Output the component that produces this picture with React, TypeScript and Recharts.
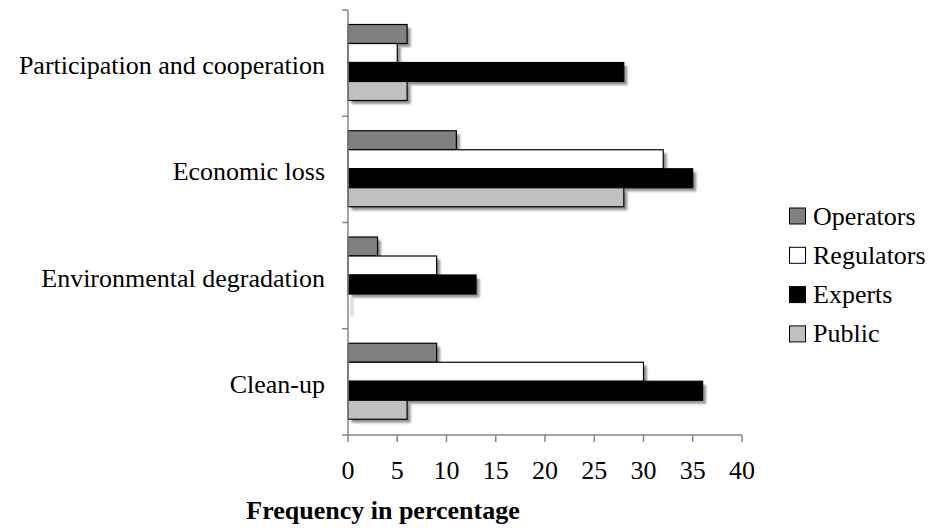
import React from 'react';
import { BarChart, Bar, XAxis, YAxis, Legend } from 'recharts';

const categories = [
  'Participation and cooperation',
  'Economic loss',
  'Environmental degradation',
  'Clean-up'
];
const operators = [6, 11, 3, 9];
const regulators = [5, 32, 9, 30];
const experts = [28, 35, 13, 36];
const publicGroup = [6, 28, 0, 6];
const xTicks = [0, 5, 10, 15, 20, 25, 30, 35, 40];

const seriesNames = ['Operators', 'Regulators', 'Experts', 'Public'];
const seriesColors = ['#808080', '#ffffff', '#000000', '#c0c0c0'];

const data = categories.map((name, i) => ({
  name,
  Operators: operators[i],
  Regulators: regulators[i],
  Experts: experts[i],
  Public: publicGroup[i]
}));

const FONT = 'Liberation Serif, Times New Roman, serif';
const AXIS_GRAY = '#868686';

// bar with black outline and the soft offset shadow of the original
const ShadowBar = (props: any) => {
  const { x, y, width, height, fill } = props;
  if (width == null || width < 0) return null;
  return (
    <g>
      <rect
        x={x + 3.5}
        y={y + 3.5}
        width={Math.max(width, 1)}
        height={height}
        fill="#808080"
        opacity={0.85}
        style={{ filter: 'blur(1.3px)' }}
      />
      {width > 0 && (
        <rect x={x} y={y} width={width} height={height} fill={fill} stroke="#000" strokeWidth={1.2} />
      )}
    </g>
  );
};

// category label plus tick marks on the band edges
const CategoryTick = (props: any) => {
  const { x, y, payload, index, visibleTicksCount } = props;
  const half = payload.offset ?? 53;
  const axisX = x + 23;
  const last = visibleTicksCount ? visibleTicksCount - 1 : categories.length - 1;
  return (
    <g>
      <line x1={axisX - 6} x2={axisX} y1={y - half} y2={y - half} stroke={AXIS_GRAY} strokeWidth={1.5} />
      {index === last && (
        <line x1={axisX - 6} x2={axisX} y1={y + half} y2={y + half} stroke={AXIS_GRAY} strokeWidth={1.5} />
      )}
      <text x={x} y={y + 11} textAnchor="end" fontSize={26} fontFamily={FONT} fill="#000">
        {payload.value}
      </text>
    </g>
  );
};

const TitleLabel = (props: any) => {
  const { viewBox } = props;
  return (
    <text
      x={viewBox.x + 35}
      y={viewBox.y + 84}
      textAnchor="middle"
      fontSize={26}
      fontWeight="bold"
      fontFamily={FONT}
      fill="#000"
    >
      Frequency in percentage
    </text>
  );
};

const LegendContent = () => (
  <svg width={145} height={160} style={{ display: 'block' }}>
    {seriesNames.map((n, i) => {
      const cy = 21 + 39.3 * i;
      return (
        <g key={n}>
          <rect x={1.5} y={cy - 8} width={16} height={16} fill={seriesColors[i]} stroke="#000" strokeWidth={1} />
          <text x={25} y={cy + 8.5} fontSize={26} fontFamily={FONT} fill="#000">
            {n}
          </text>
        </g>
      );
    })}
  </svg>
);

export default function App() {
  return (
    <div style={{ position: 'absolute', left: 0, top: 0, width: 933, height: 531, background: '#fff' }}>
      <BarChart
        width={933}
        height={531}
        data={data}
        layout="vertical"
        margin={{ top: 10, right: 191, bottom: 0, left: 0 }}
        barCategoryGap={14.5}
        barGap={0}
      >
        <XAxis
          type="number"
          domain={[0, 40]}
          ticks={xTicks}
          interval={0}
          height={96}
          tickSize={7}
          tickMargin={19}
          axisLine={{ stroke: AXIS_GRAY, strokeWidth: 1.5 }}
          tickLine={{ stroke: AXIS_GRAY, strokeWidth: 1.5 }}
          tick={{ fontSize: 26, fill: '#000', fontFamily: FONT }}
          label={{ content: TitleLabel }}
        />
        <YAxis
          type="category"
          dataKey="name"
          width={348}
          interval={0}
          tickLine={false}
          tickSize={0}
          tickMargin={23}
          axisLine={{ stroke: AXIS_GRAY, strokeWidth: 1.5 }}
          tick={<CategoryTick />}
        />
        <Legend
          layout="horizontal"
          align="center"
          verticalAlign="middle"
          wrapperStyle={{ left: 788, top: 195, width: 145 }}
          content={LegendContent}
        />
        {seriesNames.map((n, i) => (
          <Bar key={n} dataKey={n} fill={seriesColors[i]} shape={ShadowBar} isAnimationActive={false} />
        ))}
      </BarChart>
    </div>
  );
}
